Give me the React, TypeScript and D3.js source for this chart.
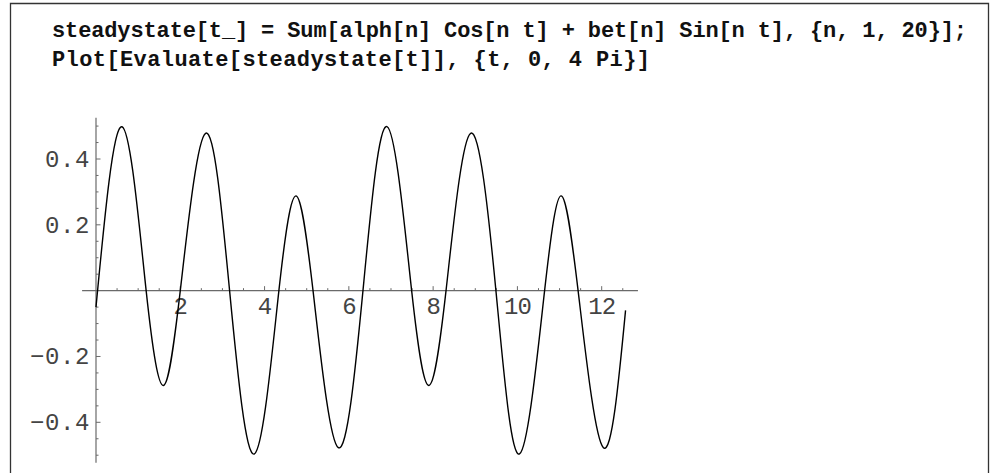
import React from "react";
import * as d3 from "d3";

// Input cell text
const codeLines = [
  "steadystate[t_] = Sum[alph[n] Cos[n t] + bet[n] Sin[n t], {n, 1, 20}];",
  "Plot[Evaluate[steadystate[t]], {t, 0, 4 Pi}]",
];

// Curve samples: t and steadystate(t) at extrema and zero crossings
const tValues = [
  0, 0.617, 1.19, 1.6, 2.0, 2.6, 3.17, 3.76, 4.34, 4.746, 5.15, 5.75,
  6.335, 6.91, 7.49, 7.9, 8.306, 8.89, 9.49, 10.05, 10.645, 11.04, 11.44,
  12.04, 12.566,
];
const sValues = [
  -0.05, 0.498, 0, -0.288, 0, 0.478, 0, -0.496, 0, 0.288, 0, -0.477, 0,
  0.498, 0, -0.288, 0, 0.478, 0, -0.496, 0, 0.288, 0, -0.477, -0.06,
];

// Axis ticks
const xMajorTicks = [2, 4, 6, 8, 10, 12];
const xTickLabels = ["2", "4", "6", "8", "10", "12"];
const yMajorTicks = [0.4, 0.2, -0.2, -0.4];
const yTickLabels = ["0.4", "0.2", "\u22120.2", "\u22120.4"];

const W = 995;
const H = 473;

export default function App() {
  const x = d3.scaleLinear().domain([0, 12]).range([96, 601.7]);
  const y = d3.scaleLinear().domain([-0.4, 0.4]).range([422.3, 159]);

  const points: [number, number][] = tValues.map((t, i) => [t, sValues[i]]);
  const line = d3
    .line<[number, number]>()
    .x((d) => x(d[0]))
    .y((d) => y(d[1]))
    .curve(d3.curveNatural);

  const xMinor = d3.range(1, 26).map((i) => i * 0.5).filter((v) => v % 2 !== 0);
  const yMinor = d3
    .range(-10, 11)
    .map((i) => +(i * 0.05).toFixed(2))
    .filter((v) => v !== 0 && !yMajorTicks.some((m) => Math.abs(m - v) < 1e-9));

  const y0 = y(0);
  const x0 = x(0);
  const axisColor = "#6a6a6a";
  const labelColor = "#444";
  const mono = "'Liberation Mono', 'DejaVu Sans Mono', monospace";

  return (
    <svg
      width={W}
      height={H}
      style={{ position: "absolute", left: 0, top: 0, background: "#fff" }}
    >
      {/* cell frame */}
      <path d={`M10.5,${H} V3.5 H988.5 V${H}`} fill="none" stroke="#333" strokeWidth={1.3} />

      {/* input code */}
      <text x={52} y={37} fontFamily={mono} fontWeight="bold" fontSize={22} fill="#111" textLength={915} lengthAdjust="spacing" xmlSpace="preserve">
        {codeLines[0]}
      </text>
      <text x={52} y={66} fontFamily={mono} fontWeight="bold" fontSize={22} fill="#111" textLength={598} lengthAdjust="spacing" xmlSpace="preserve">
        {codeLines[1]}
      </text>

      {/* axes */}
      <line x1={x(-0.33)} x2={x(12.86)} y1={y0} y2={y0} stroke={axisColor} strokeWidth={1.2} />
      <line x1={x0} x2={x0} y1={y(0.525)} y2={y(-0.523)} stroke={axisColor} strokeWidth={1.2} />

      {/* x ticks */}
      {xMajorTicks.map((t) => (
        <line key={`xM${t}`} x1={x(t)} x2={x(t)} y1={y0} y2={y0 - 4.5} stroke={axisColor} strokeWidth={1} />
      ))}
      {xMinor.map((t) => (
        <line key={`xm${t}`} x1={x(t)} x2={x(t)} y1={y0} y2={y0 - 2.5} stroke={axisColor} strokeWidth={1} />
      ))}
      {/* y ticks */}
      {yMajorTicks.map((v) => (
        <line key={`yM${v}`} x1={x0} x2={x0 + 4.5} y1={y(v)} y2={y(v)} stroke={axisColor} strokeWidth={1} />
      ))}
      {yMinor.map((v) => (
        <line key={`ym${v}`} x1={x0} x2={x0 + 2.5} y1={y(v)} y2={y(v)} stroke={axisColor} strokeWidth={1} />
      ))}

      {/* tick labels */}
      {xMajorTicks.map((t, i) => (
        <text key={`xl${t}`} x={x(t)} y={314} textAnchor="middle" fontFamily={mono} fontSize={24} fill={labelColor} letterSpacing={-1}>
          {xTickLabels[i]}
        </text>
      ))}
      {yMajorTicks.map((v, i) => (
        <text key={`yl${v}`} x={90} y={y(v) + 8} textAnchor="end" fontFamily={mono} fontSize={24} fill={labelColor} letterSpacing={0.6}>
          {yTickLabels[i]}
        </text>
      ))}

      {/* steady-state curve */}
      <path d={line(points) ?? ""} fill="none" stroke="#000" strokeWidth={1.4} strokeLinejoin="round" />
    </svg>
  );
}
